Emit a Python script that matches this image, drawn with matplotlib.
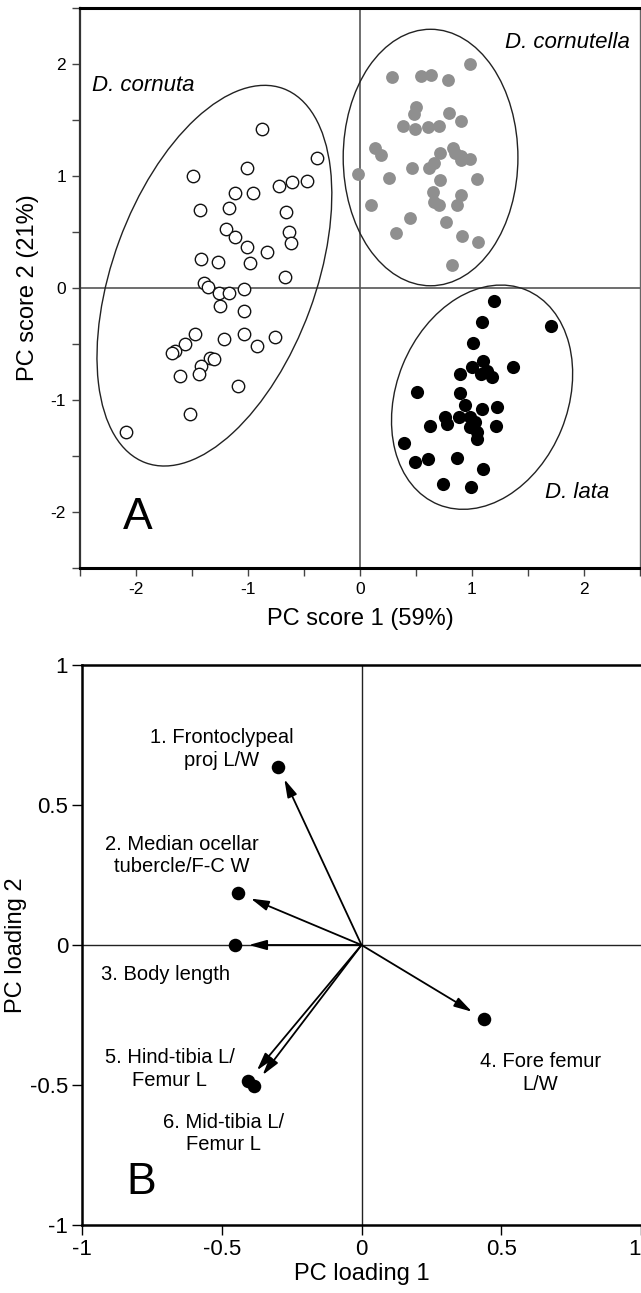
import matplotlib
matplotlib.use("Agg")
import matplotlib.pyplot as plt
from matplotlib.patches import Ellipse

plt.rcParams['font.family'] = ['Liberation Sans', 'DejaVu Sans']
plt.rcParams['axes.unicode_minus'] = False

# ---- panel A: PC scores ----
cornuta_x = [-0.878, -0.381, -1.012, -1.488, -0.720, -0.604, -0.476, -1.116, -0.958,
             -1.429, -1.167, -0.664, -1.196, -1.116, -0.634, -0.619, -1.012, -0.833,
             -1.423, -1.265, -0.982, -0.670, -1.393, -1.354, -1.256, -1.170, -1.033,
             -1.250, -1.033, -1.473, -1.563, -1.652, -1.682, -1.211, -1.033, -0.923,
             -0.759, -1.339, -1.301, -1.423, -1.435, -1.607, -1.086, -1.518, -2.092]
cornuta_y = [1.417, 1.158, 1.069, 1.003, 0.911, 0.949, 0.955, 0.845, 0.845,
             0.696, 0.711, 0.682, 0.527, 0.452, 0.497, 0.405, 0.363, 0.319,
             0.259, 0.229, 0.220, 0.101, 0.048, 0.006, -0.048, -0.048, -0.012,
             -0.161, -0.202, -0.411, -0.503, -0.563, -0.583, -0.458, -0.414, -0.515,
             -0.440, -0.628, -0.634, -0.696, -0.771, -0.786, -0.875, -1.128, -1.289]

cornutella_x = [0.982, 0.283, 0.542, 0.631, 0.789, 0.500, 0.482, 0.798, 0.899, 0.381,
                0.491, 0.604, 0.708, 0.134, 0.185, 0.714, 0.827, 0.848, 0.899, 0.982,
                0.902, 0.661, 0.619, 0.461, -0.015, 0.262, 0.714, 1.042, 0.649, 0.899,
                0.661, 0.708, 0.863, 0.095, 0.446, 0.768, 0.321, 0.908, 1.057, 0.818]
cornutella_y = [2.000, 1.881, 1.893, 1.902, 1.857, 1.619, 1.551, 1.565, 1.494, 1.446,
                1.417, 1.440, 1.446, 1.247, 1.188, 1.202, 1.247, 1.202, 1.179, 1.152,
                1.143, 1.119, 1.069, 1.069, 1.018, 0.979, 0.964, 0.970, 0.860, 0.830,
                0.771, 0.741, 0.741, 0.741, 0.622, 0.592, 0.488, 0.464, 0.414, 0.205]

lata_x = [1.196, 1.705, 1.092, 1.012, 1.101, 0.997, 0.893, 1.080, 1.131, 1.176, 1.369,
          0.506, 0.893, 0.938, 1.220, 1.086, 0.759, 0.780, 0.887, 0.982, 1.027, 0.982,
          1.042, 0.625, 1.211, 1.048, 0.396, 0.491, 0.604, 0.869, 1.095, 0.744, 0.991]
lata_y = [-0.116, -0.336, -0.301, -0.494, -0.649, -0.708, -0.768, -0.768, -0.738, -0.798, -0.708,
          -0.926, -0.940, -1.045, -1.065, -1.083, -1.149, -1.214, -1.155, -1.149, -1.193, -1.238,
          -1.283, -1.232, -1.232, -1.351, -1.387, -1.551, -1.530, -1.515, -1.616, -1.750, -1.774]

# ellipses: cornuta, cornutella, lata
ell_cx = [-1.30, 0.63, 1.09]
ell_cy = [0.11, 1.165, -0.975]
ell_w = [3.56, 1.56, 2.07]
ell_h = [1.81, 2.29, 1.53]
ell_angle = [69.8, 0.0, 67.9]

species = ['D. cornuta', 'D. cornutella', 'D. lata']

# ---- panel B: PC loadings ----
load_x = [-0.297, -0.442, -0.453, 0.438, -0.406, -0.384]
load_y = [0.637, 0.185, 0.0, -0.264, -0.486, -0.504]
load_names = ['1. Frontoclypeal\nproj L/W', '2. Median ocellar\ntubercle/F-C W',
              '3. Body length', '4. Fore femur\nL/W', '5. Hind-tibia L/\nFemur L',
              '6. Mid-tibia L/\nFemur L']
name_x = [-0.50, -0.644, -0.70, 0.641, -0.687, -0.494]
name_y = [0.70, 0.32, -0.104, -0.457, -0.444, -0.673]

fig = plt.figure(figsize=(6.41, 12.93), dpi=100)

# ===== A =====
ax = fig.add_axes([80/641, 1-568/1293, 560/641, 560/1293])
ax.set_xlim(-2.5, 2.5)
ax.set_ylim(-2.5, 2.5)
ax.axhline(0, color='#555555', lw=1.2, zorder=1)
ax.axvline(0, color='#555555', lw=1.2, zorder=1)
for i in range(3):
    ax.add_patch(Ellipse((ell_cx[i], ell_cy[i]), ell_w[i], ell_h[i], angle=ell_angle[i],
                         fill=False, ec='#222222', lw=1.0, zorder=2))
ax.scatter(cornuta_x, cornuta_y, s=80, facecolor='white', edgecolor='#111111', lw=1.0, zorder=3)
ax.scatter(cornutella_x, cornutella_y, s=85, color='#8f8f8f', lw=0, zorder=3)
ax.scatter(lata_x, lata_y, s=90, color='black', lw=0, zorder=3)

ax.text(-2.39, 1.81, species[0], style='italic', fontsize=16, va='center', ha='left')
ax.text(2.41, 2.19, species[1], style='italic', fontsize=16, va='center', ha='right')
ax.text(1.65, -1.83, species[2], style='italic', fontsize=16, va='center', ha='left')
ax.text(-2.12, -2.05, 'A', fontsize=32, va='center', ha='left',
        family=['Liberation Sans Narrow', 'Liberation Sans'])

ax.set_xticks([-2, -1, 0, 1, 2])
ax.set_xticklabels(['-2', '-1', '0', '1', '2'])
ax.set_xticks([-2.5, -1.5, -0.5, 0.5, 1.5, 2.5], minor=True)
ax.set_yticks([-2, -1, 0, 1, 2])
ax.set_yticklabels(['-2', '-1', '0', '1', '2'])
ax.set_yticks([-2.5, -1.5, -0.5, 0.5, 1.5, 2.5], minor=True)
ax.tick_params(which='both', direction='out', length=6, width=1, color='#444444',
               labelsize=12.5, pad=4)
ax.set_xlabel('PC score 1 (59%)', fontsize=17, labelpad=8)
ax.set_ylabel('PC score 2 (21%)', fontsize=17, labelpad=8)
ax.spines['top'].set_linewidth(2.2)
ax.spines['bottom'].set_linewidth(2.2)
ax.spines['left'].set_linewidth(1.6)
ax.spines['left'].set_color('#333333')
ax.spines['right'].set_linewidth(1.0)
ax.spines['right'].set_color('#666666')

# ===== B =====
bx = fig.add_axes([82/641, 1-1225/1293, 559/641, 560/1293])
bx.set_xlim(-1, 1)
bx.set_ylim(-1, 1)
bx.axhline(0, color='#222222', lw=1.0, zorder=1)
bx.axvline(0, color='#222222', lw=1.0, zorder=1)
for i in range(len(load_x)):
    bx.annotate('', xy=(load_x[i], load_y[i]), xytext=(0, 0),
                arrowprops=dict(arrowstyle='-|>,head_length=0.9,head_width=0.25',
                                color='black', lw=1.3, shrinkA=0, shrinkB=10,
                                mutation_scale=12), zorder=3)
bx.scatter(load_x, load_y, s=95, color='black', lw=0, zorder=4)
for i in range(len(load_names)):
    bx.text(name_x[i], name_y[i], load_names[i], fontsize=14.5, ha='center', va='center',
            linespacing=1.25)
bx.text(-0.84, -0.85, 'B', fontsize=32, va='center', ha='left',
        family=['Liberation Sans Narrow', 'Liberation Sans'])

bx.set_xticks([-1, -0.5, 0, 0.5, 1])
bx.set_xticklabels(['-1', '-0.5', '0', '0.5', '1'])
bx.get_xticklabels()[-1].set_horizontalalignment('right')
bx.set_yticks([-1, -0.5, 0, 0.5, 1])
bx.set_yticklabels(['-1', '-0.5', '0', '0.5', '1'])
bx.tick_params(direction='out', length=7, width=1, labelsize=16, pad=3)
bx.set_xlabel('PC loading 1', fontsize=17, labelpad=2)
bx.set_ylabel('PC loading 2', fontsize=17, labelpad=2)
for s in ['top', 'left', 'bottom']:
    bx.spines[s].set_linewidth(1.8)
bx.spines['right'].set_visible(False)

fig.savefig('out.png', dpi=100)
